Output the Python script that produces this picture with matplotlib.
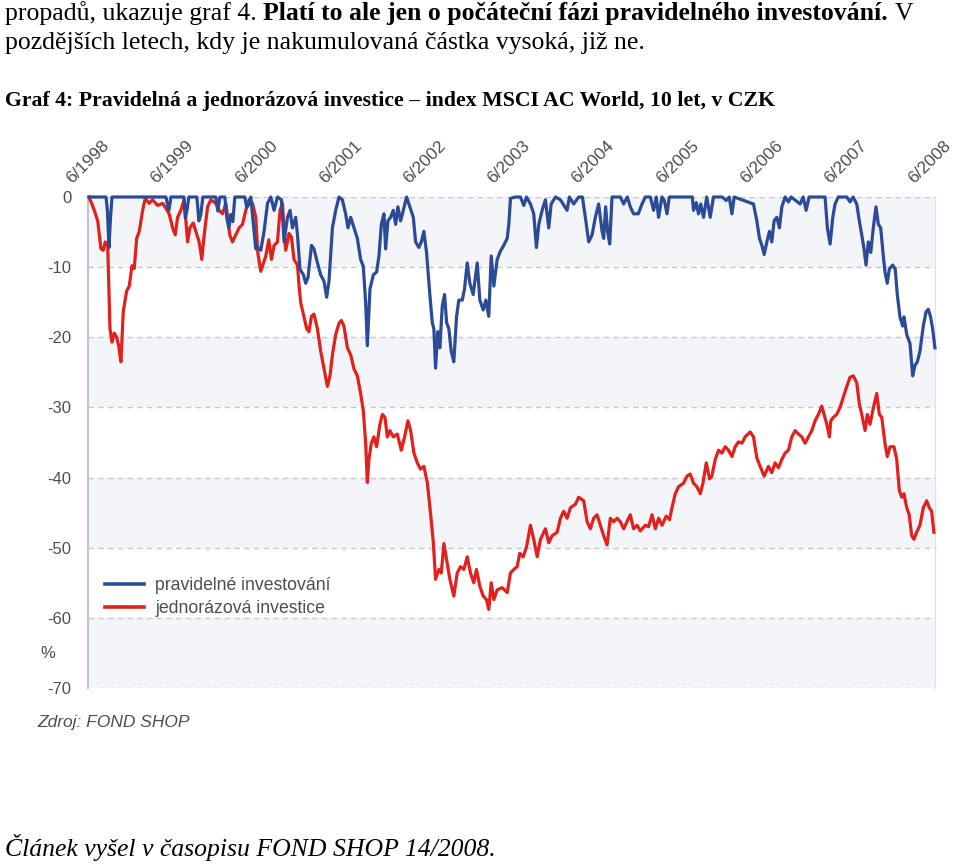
import matplotlib
matplotlib.use("Agg")
import matplotlib.pyplot as plt
import numpy as np

# ---------------- data (decimal years, drawdown in %) ----------------
red_x = [1998.512, 1998.536, 1998.575, 1998.615, 1998.654, 1998.681, 1998.705, 1998.734, 1998.761, 1998.785,
         1998.812, 1998.840, 1998.864, 1998.891, 1998.919, 1998.959, 1998.990, 1999.022, 1999.049, 1999.078,
         1999.109, 1999.149, 1999.180, 1999.227, 1999.267, 1999.327, 1999.386, 1999.425, 1999.464, 1999.505,
         1999.536, 1999.564, 1999.603, 1999.642, 1999.683, 1999.710, 1999.749, 1999.781, 1999.820, 1999.852,
         1999.880, 1999.920, 1999.959, 2000.018, 2000.058, 2000.098, 2000.137, 2000.184, 2000.216, 2000.256,
         2000.295, 2000.335, 2000.374, 2000.413, 2000.454, 2000.493, 2000.517, 2000.552, 2000.612, 2000.647,
         2000.679, 2000.710, 2000.750, 2000.781, 2000.810, 2000.829, 2000.849, 2000.888, 2000.916, 2000.947,
         2000.988, 2001.007, 2001.027, 2001.066, 2001.098, 2001.125, 2001.154, 2001.184, 2001.225, 2001.264,
         2001.311, 2001.343, 2001.374, 2001.403, 2001.442, 2001.481, 2001.509, 2001.540, 2001.581, 2001.620,
         2001.659, 2001.699, 2001.738, 2001.770, 2001.798, 2001.818, 2001.837, 2001.865, 2001.896, 2001.928,
         2001.967, 2001.996, 2002.027, 2002.055, 2002.086, 2002.126, 2002.174, 2002.221, 2002.260, 2002.300,
         2002.332, 2002.371, 2002.411, 2002.450, 2002.489, 2002.530, 2002.569, 2002.601, 2002.628, 2002.667,
         2002.696, 2002.727, 2002.759, 2002.798, 2002.845, 2002.885, 2002.925, 2002.964, 2003.004, 2003.043,
         2003.082, 2003.114, 2003.154, 2003.194, 2003.233, 2003.260, 2003.289, 2003.320, 2003.360, 2003.419,
         2003.479, 2003.518, 2003.557, 2003.597, 2003.628, 2003.668, 2003.708, 2003.755, 2003.794, 2003.835,
         2003.874, 2003.933, 2003.972, 2004.012, 2004.072, 2004.111, 2004.150, 2004.190, 2004.230, 2004.289,
         2004.328, 2004.387, 2004.428, 2004.467, 2004.506, 2004.546, 2004.585, 2004.625, 2004.665, 2004.704,
         2004.743, 2004.784, 2004.823, 2004.862, 2004.902, 2004.941, 2004.980, 2005.021, 2005.060, 2005.119,
         2005.158, 2005.199, 2005.238, 2005.277, 2005.317, 2005.368, 2005.407, 2005.436, 2005.475, 2005.514,
         2005.574, 2005.614, 2005.653, 2005.692, 2005.732, 2005.772, 2005.804, 2005.843, 2005.882, 2005.910,
         2005.950, 2005.989, 2006.029, 2006.068, 2006.107, 2006.148, 2006.187, 2006.226, 2006.266, 2006.305,
         2006.365, 2006.404, 2006.444, 2006.483, 2006.531, 2006.582, 2006.622, 2006.661, 2006.701, 2006.741,
         2006.780, 2006.819, 2006.859, 2006.899, 2006.938, 2006.978, 2007.017, 2007.056, 2007.097, 2007.136,
         2007.175, 2007.215, 2007.243, 2007.275, 2007.306, 2007.322, 2007.353, 2007.393, 2007.432, 2007.472,
         2007.512, 2007.551, 2007.590, 2007.631, 2007.661, 2007.690, 2007.729, 2007.756, 2007.788, 2007.820,
         2007.848, 2007.868, 2007.899, 2007.927, 2007.966, 2007.993, 2008.026, 2008.073, 2008.105, 2008.136,
         2008.164, 2008.192, 2008.224, 2008.254, 2008.283, 2008.310, 2008.342, 2008.381, 2008.421, 2008.461,
         2008.492, 2008.520, 2008.547]
red_y = [0, -0.7, -1.9, -3.4, -7.4, -7.6, -6.4, -6.9, -18.8, -20.7,
         -19.4, -20.0, -21.2, -23.5, -16.3, -13.4, -12.7, -9.8, -10.2, -5.9,
         -4.9, -1.9, -0.2, -0.9, -0.4, -1.2, -0.9, -1.6, -2.4, -4.4,
         -5.4, -2.9, -1.9, -0.4, -6.4, -4.4, -3.7, -4.9, -6.4, -8.9,
         -5.4, -1.4, -0.4, -0.9, -1.9, -2.4, -0.9, -5.4, -6.4, -5.4,
         -4.4, -3.9, -1.9, -0.4, -0.9, -2.9, -8.0, -10.6, -8.4, -6.1,
         -8.9, -6.9, -6.4, -1.9, -0.9, -4.9, -7.6, -5.2, -5.7, -8.9,
         -9.7, -12.7, -15.1, -17.1, -18.8, -19.2, -17.0, -16.7, -18.8, -22.0,
         -25.0, -27.0, -25.5, -22.5, -19.6, -18.0, -17.6, -18.4, -21.5, -22.5,
         -24.5, -25.5, -28.0, -30.5, -35.1, -40.7, -37.4, -35.1, -34.2, -35.6,
         -32.4, -31.0, -31.4, -34.2, -33.3, -34.2, -33.8, -36.1, -34.2, -31.9,
         -33.3, -36.5, -37.9, -38.8, -38.4, -40.7, -45.2, -49.2, -54.5, -53.1,
         -53.6, -49.4, -51.7, -54.5, -56.9, -53.6, -52.7, -53.1, -51.3, -53.6,
         -55.0, -53.1, -55.5, -56.9, -57.4, -58.8, -55.0, -57.4, -56.0, -55.7,
         -56.4, -53.6, -53.1, -52.7, -50.8, -51.3, -49.9, -46.8, -48.8, -51.3,
         -48.8, -47.3, -49.3, -48.3, -47.8, -45.8, -44.8, -45.8, -44.3, -43.8,
         -42.8, -43.3, -46.3, -47.3, -45.8, -45.3, -46.8, -48.3, -49.6, -45.8,
         -46.3, -45.8, -46.3, -47.3, -46.3, -45.3, -47.3, -46.8, -47.6, -46.8,
         -47.0, -45.3, -47.3, -45.8, -46.8, -45.5, -46.0, -44.3, -42.3, -41.3,
         -40.8, -39.8, -39.5, -40.8, -41.3, -42.3, -40.8, -37.9, -40.2, -39.8,
         -37.4, -36.1, -36.5, -35.6, -36.1, -37.0, -35.6, -34.9, -35.1, -34.2,
         -33.5, -34.2, -37.2, -38.4, -39.8, -38.4, -39.3, -37.9, -38.6, -37.4,
         -36.5, -36.1, -34.2, -33.3, -33.8, -34.2, -35.1, -34.2, -33.3, -31.9,
         -31.0, -29.8, -31.0, -32.4, -34.2, -31.9, -31.4, -31.0, -30.0, -28.5,
         -27.0, -25.7, -25.5, -26.5, -29.5, -31.0, -33.3, -31.0, -32.4, -30.5,
         -29.0, -28.0, -31.0, -31.4, -35.1, -37.0, -35.6, -35.6, -37.4, -41.8,
         -42.8, -42.3, -44.3, -45.3, -48.3, -48.8, -47.8, -46.8, -44.3, -43.3,
         -44.3, -44.8, -47.8]

blue_x = [1998.512, 1998.714, 1998.731, 1998.749, 1998.767, 1998.785, 1999.425, 1999.461, 1999.485, 1999.639,
          1999.657, 1999.674, 1999.698, 1999.793, 1999.817, 1999.840, 1999.864, 2000.018, 2000.042, 2000.066,
          2000.125, 2000.149, 2000.173, 2000.196, 2000.220, 2000.244, 2000.362, 2000.386, 2000.410, 2000.434,
          2000.457, 2000.493, 2000.517, 2000.552, 2000.591, 2000.632, 2000.671, 2000.710, 2000.750, 2000.798,
          2000.829, 2000.869, 2000.900, 2000.928, 2000.967, 2000.988, 2001.018, 2001.059, 2001.086, 2001.113,
          2001.154, 2001.184, 2001.225, 2001.264, 2001.303, 2001.335, 2001.362, 2001.403, 2001.442, 2001.481,
          2001.521, 2001.560, 2001.588, 2001.620, 2001.659, 2001.699, 2001.738, 2001.770, 2001.798, 2001.818,
          2001.849, 2001.889, 2001.928, 2001.956, 2001.984, 2002.015, 2002.035, 2002.062, 2002.094, 2002.126,
          2002.154, 2002.181, 2002.213, 2002.245, 2002.284, 2002.323, 2002.364, 2002.391, 2002.430, 2002.459,
          2002.489, 2002.521, 2002.560, 2002.589, 2002.608, 2002.628, 2002.655, 2002.679, 2002.708, 2002.735,
          2002.759, 2002.786, 2002.814, 2002.845, 2002.877, 2002.904, 2002.945, 2002.972, 2003.004, 2003.035,
          2003.075, 2003.123, 2003.154, 2003.194, 2003.225, 2003.260, 2003.289, 2003.320, 2003.360, 2003.399,
          2003.438, 2003.479, 2003.498, 2003.518, 2003.577, 2003.636, 2003.676, 2003.708, 2003.755, 2003.794,
          2003.826, 2003.854, 2003.894, 2003.933, 2003.972, 2004.001, 2004.052, 2004.111, 2004.190, 2004.218,
          2004.269, 2004.328, 2004.372, 2004.407, 2004.447, 2004.487, 2004.526, 2004.565, 2004.606, 2004.625,
          2004.648, 2004.672, 2004.696, 2004.724, 2004.823, 2004.862, 2004.906, 2004.941, 2004.980, 2005.036,
          2005.080, 2005.119, 2005.179, 2005.218, 2005.250, 2005.277, 2005.317, 2005.345, 2005.377, 2005.404,
          2005.677, 2005.692, 2005.724, 2005.751, 2005.778, 2005.811, 2005.849, 2005.890, 2005.929, 2006.033,
          2006.080, 2006.116, 2006.148, 2006.175, 2006.404, 2006.444, 2006.475, 2006.504, 2006.531, 2006.563,
          2006.594, 2006.622, 2006.649, 2006.681, 2006.712, 2006.741, 2006.780, 2006.819, 2006.851, 2006.958,
          2006.994, 2007.029, 2007.065, 2007.254, 2007.282, 2007.314, 2007.346, 2007.373, 2007.412, 2007.512,
          2007.551, 2007.587, 2007.631, 2007.661, 2007.690, 2007.717, 2007.741, 2007.768, 2007.797, 2007.827,
          2007.859, 2007.887, 2007.915, 2007.946, 2007.966, 2007.993, 2008.017, 2008.057, 2008.088, 2008.112,
          2008.144, 2008.176, 2008.192, 2008.224, 2008.263, 2008.295, 2008.322, 2008.350, 2008.381, 2008.421,
          2008.453, 2008.480, 2008.508, 2008.532, 2008.559]
blue_y = [0, 0, -2.0, -7.2, -3.0, 0, 0, -1.9, 0, 0,
          -3.0, -2.0, 0, 0, -3.4, -2.5, 0, 0, -2.0, 0,
          0, -3.0, -4.4, -2.5, -3.5, 0, 0, -1.5, -1.0, 0,
          -3.0, -7.4, -7.2, -7.6, -4.9, -0.9, 0, -1.9, 0, -0.4,
          -6.4, -2.9, -1.9, -4.4, -2.9, -5.4, -10.3, -11.1, -12.3, -11.5,
          -6.9, -7.4, -9.4, -11.1, -12.0, -14.3, -12.0, -4.4, -1.9, 0,
          -0.4, -2.4, -4.4, -2.9, -4.4, -5.9, -8.9, -9.9, -15.1, -21.2,
          -13.1, -11.1, -10.7, -8.4, -3.9, -2.4, -7.4, -3.4, -2.9, -1.9,
          -3.9, -1.4, -3.4, -1.9, 0, -1.4, -2.9, -6.4, -7.2, -6.4,
          -4.9, -7.9, -13.9, -17.9, -18.8, -24.4, -19.2, -21.5, -15.5, -13.9,
          -17.9, -18.8, -22.0, -23.5, -17.1, -14.7, -14.7, -13.1, -9.4, -12.3,
          -13.9, -9.4, -14.7, -16.1, -14.7, -17.0, -8.4, -12.7, -8.9, -7.7,
          -6.9, -5.9, -3.9, -0.2, 0, 0, -1.2, 0, -1.0, -2.4,
          -7.2, -3.9, -1.9, -0.4, -4.4, -1.0, 0, -0.4, -1.9, 0,
          -1.0, 0, 0, -2.9, -6.4, -5.4, -2.9, -1.0, -4.9, -5.9,
          -1.4, -4.9, -6.7, 0, 0, -1.0, 0, -1.4, -2.4, -2.4,
          -1.0, 0, 0, -1.9, 0, -2.9, 0, -0.5, -2.4, 0,
          0, -1.9, -0.8, -2.4, -1.0, -2.9, 0, -2.9, 0, 0,
          -0.5, 0, -2.4, 0, -1.0, -3.4, -5.9, -6.9, -8.2, -6.4,
          -4.9, -6.4, -3.4, -2.9, -4.4, -1.4, 0, -0.7, 0, -1.0,
          0, -1.9, 0, 0, -4.4, -6.7, -2.9, -1.0, 0, 0,
          -0.7, 0, -1.0, -3.4, -5.4, -7.4, -9.7, -6.4, -7.9, -4.4,
          -1.4, -3.9, -4.4, -8.4, -10.7, -12.3, -10.3, -9.7, -10.3, -13.9,
          -17.1, -18.4, -17.1, -19.6, -20.9, -25.5, -24.0, -23.5, -22.0, -18.4,
          -16.4, -16.0, -17.1, -18.8, -21.5]

tick_pos = [1998.5, 1999.5, 2000.5, 2001.5, 2002.5, 2003.5, 2004.5, 2005.5, 2006.5, 2007.5, 2008.5]
tick_labels = ["6/1998", "6/1999", "6/2000", "6/2001", "6/2002", "6/2003",
               "6/2004", "6/2005", "6/2006", "6/2007", "6/2008"]
y_ticks = [0, -10, -20, -30, -40, -50, -60, -70]
series_labels = ["pravidelné investování", "jednorázová investice"]

BLUE = "#2b4a98"
RED = "#e2211c"
GRAY = "#4e4e4e"
BAND = "#f3f5f9"

W, H = 960, 864
fig = plt.figure(figsize=(W / 100, H / 100), dpi=100)
fig.patch.set_facecolor("white")
ax = fig.add_axes([88 / W, 1 - 688 / H, 847 / W, 491 / H])

# alternating background bands
for i in range(len(y_ticks) - 1):
    if i % 2 == 0:
        ax.axhspan(y_ticks[i + 1], y_ticks[i], color=BAND, lw=0, zorder=0)

ax.set_xlim(1998.5, 2008.56)
ax.set_ylim(-70, 0)
ax.set_yticks(y_ticks)
ax.set_yticklabels([str(v) for v in y_ticks])
ax.yaxis.grid(True, color="#c3c9d6", lw=1.0, linestyle=(0, (4, 3)))
ax.set_axisbelow(True)
ax.xaxis.tick_top()
ax.set_xticks(tick_pos)
ax.set_xticklabels(tick_labels, rotation=45, ha="center", va="bottom")
ax.tick_params(axis="x", length=0, pad=8, labelsize=12.5, labelcolor=GRAY)
ax.tick_params(axis="y", length=0, pad=12, labelsize=12, labelcolor=GRAY)
for lab in ax.get_xticklabels() + ax.get_yticklabels():
    lab.set_fontfamily("Liberation Sans")

for s in ["top", "bottom"]:
    ax.spines[s].set_visible(False)
ax.spines["left"].set_color("#b5bfd3")
ax.spines["left"].set_linewidth(1.3)
ax.spines["right"].set_color("#dfe3eb")
ax.spines["right"].set_linewidth(1.0)

l_red, = ax.plot(red_x, red_y, color=RED, lw=2.3, solid_joinstyle="round", zorder=3, clip_on=False)
l_blue, = ax.plot(blue_x, blue_y, color=BLUE, lw=2.3, solid_joinstyle="round", zorder=4, clip_on=False)

leg = ax.legend([l_blue, l_red], series_labels, loc="upper left",
                bbox_to_anchor=(17 / 847, 0.226), frameon=False, borderpad=0,
                borderaxespad=0, handlelength=2.2, handletextpad=0.65, labelspacing=0.34,
                prop={"family": "Liberation Sans", "size": 12.7})
for t in leg.get_texts():
    t.set_color(GRAY)
for h in leg.legend_handles:
    h.set_linewidth(2.6)

fig.text(48 / W, 1 - 654 / H, "%", ha="center", va="center", fontsize=12,
         color=GRAY, family="Liberation Sans")
fig.text(37 / W, 1 - 723 / H, "Zdroj: FOND SHOP", ha="left", va="center", fontsize=12.5,
         color=GRAY, family="Liberation Sans", style="italic")

# ---------------- surrounding document text ----------------
SERIF = "Liberation Serif"
FS = 18.5
renderer = fig.canvas.get_renderer()


def put(x_px, base_px, s, size=FS, **kw):
    t = fig.text(x_px / W, 1 - base_px / H, s, ha="left", va="baseline",
                 fontsize=size, family=SERIF, color="black", **kw)
    return t.get_window_extent(renderer).x1


def space_w(**kw):
    a = fig.text(0, 0, "a a", fontsize=FS, family=SERIF, **kw)
    b = fig.text(0, 0, "aa", fontsize=FS, family=SERIF, **kw)
    w = a.get_window_extent(renderer).width - b.get_window_extent(renderer).width
    a.remove()
    b.remove()
    return w


sp = space_w()
x = put(5, 20, "propadů, ukazuje graf 4.")
x = put(x + sp, 20, "Platí to ale jen o počáteční fázi pravidelného investování.", weight="bold")
put(x + sp, 20, "V")
put(5, 49, "pozdějších letech, kdy je nakumulovaná částka vysoká, již ne.")
put(5, 106, "Graf 4: Pravidelná a jednorázová investice – index MSCI AC World, 10 let, v CZK",
    size=15.7, weight="bold")
put(5, 856, "Článek vyšel v časopisu FOND SHOP 14/2008.", style="italic")

fig.savefig("out.png", dpi=100, facecolor="white")
